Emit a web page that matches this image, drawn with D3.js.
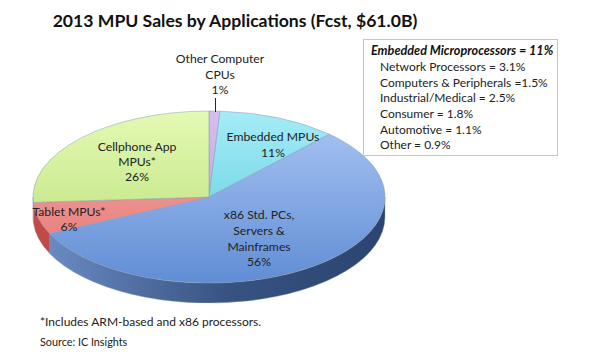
<!DOCTYPE html>
<html>
<head>
<meta charset="utf-8">
<script src="https://cdn.jsdelivr.net/npm/d3@7"></script>
<style>
  body { margin: 0; background: #fff; }
  svg { font-family: Lato, "Open Sans", sans-serif; }
</style>
</head>
<body>
<div id="chart"></div>
<script>
// data
const categories = ["Other Computer CPUs", "Embedded MPUs", "x86 Std. PCs, Servers & Mainframes", "Tablet MPUs*", "Cellphone App MPUs*"];
const shares = [1, 11, 56, 6, 26];
const sliceLabels = [
  ["Other Computer", "CPUs", "1%"],
  ["Embedded MPUs", "11%"],
  ["x86 Std. PCs,", "Servers &", "Mainframes", "56%"],
  ["Tablet MPUs*", "6%"],
  ["Cellphone App", "MPUs*", "26%"]
];
const embeddedTitle = "Embedded Microprocessors = 11%";
const embeddedLines = [
  "Network Processors = 3.1%",
  "Computers & Peripherals =1.5%",
  "Industrial/Medical = 2.5%",
  "Consumer = 1.8%",
  "Automotive = 1.1%",
  "Other = 0.9%"
];

const width = 589, height = 354;
const cx = 209, cy = 197, rx = 176, ry = 86, depth = 20;

const topTop = ["#d4bff0", "#a5ecf7", "#abc7f5", "#f7b1ae", "#e4f9b4"];
const topBot = ["#b597db", "#55c9dc", "#608dd4", "#e2716e", "#b6dd72"];
const sideL = ["#8c6bb8", "#2f9fb5", "#6e8fc8", "#c24b48", "#86a94a"];
const sideR = ["#6b4d96", "#1f7b8f", "#2b4471", "#a33633", "#6d8b36"];

const svg = d3.select("#chart").append("svg")
  .attr("width", width)
  .attr("height", height);

const defs = svg.append("defs");
shares.forEach((d, i) => {
  const g1 = defs.append("linearGradient").attr("id", "top" + i)
    .attr("gradientUnits", "userSpaceOnUse")
    .attr("x1", 0).attr("y1", cy - ry).attr("x2", 0).attr("y2", cy + ry);
  g1.append("stop").attr("offset", 0).attr("stop-color", topTop[i]);
  g1.append("stop").attr("offset", 1).attr("stop-color", topBot[i]);
  const g2 = defs.append("linearGradient").attr("id", "side" + i)
    .attr("gradientUnits", "userSpaceOnUse")
    .attr("x1", cx - rx).attr("y1", 0).attr("x2", cx + rx).attr("y2", 0);
  g2.append("stop").attr("offset", 0).attr("stop-color", sideL[i]);
  g2.append("stop").attr("offset", 0.55).attr("stop-color", d3.interpolateRgb(sideL[i], sideR[i])(0.8));
  g2.append("stop").attr("offset", 1).attr("stop-color", sideR[i]);
});

const pie = d3.pie().sort(null).value(d => d).startAngle(0).endAngle(2 * Math.PI);
const arcs = pie(shares);

const px = a => cx + rx * Math.sin(a);
const py = a => cy - ry * Math.cos(a);

// side walls (only the front half, angles between PI/2 and 3PI/2)
const sides = svg.append("g");
arcs.forEach((d, i) => {
  const s = Math.max(d.startAngle, Math.PI / 2);
  const e = Math.min(d.endAngle, 3 * Math.PI / 2);
  if (e <= s) return;
  const large = e - s > Math.PI ? 1 : 0;
  const p = `M${px(s)},${py(s)} A${rx},${ry} 0 ${large} 1 ${px(e)},${py(e)}`
    + ` L${px(e)},${py(e) + depth} A${rx},${ry} 0 ${large} 0 ${px(s)},${py(s) + depth} Z`;
  sides.append("path").attr("d", p)
    .attr("fill", `url(#side${i})`)
    .attr("stroke", "#8899aa").attr("stroke-width", 0.4);
});

// top faces
const tops = svg.append("g");
arcs.forEach((d, i) => {
  const large = d.endAngle - d.startAngle > Math.PI ? 1 : 0;
  const p = `M${cx},${cy} L${px(d.startAngle)},${py(d.startAngle)}`
    + ` A${rx},${ry} 0 ${large} 1 ${px(d.endAngle)},${py(d.endAngle)} Z`;
  tops.append("path").attr("d", p)
    .attr("fill", `url(#top${i})`)
    .attr("stroke", "#8a9bb0").attr("stroke-width", 0.5);
});

// slice labels
const labelPos = [[220, 59], [273, 137], [259, 215], [69, 212], [137, 147]];
const lineGap = [15.5, 15.5, 15.7, 14.5, 15];
const labels = svg.append("g").attr("font-size", 12.2).attr("fill", "#222").attr("text-anchor", "middle");
sliceLabels.forEach((lines, i) => {
  const t = labels.append("text").attr("x", labelPos[i][0]).attr("y", labelPos[i][1]);
  lines.forEach((ln, j) => {
    t.append("tspan").attr("x", labelPos[i][0]).attr("y", labelPos[i][1] + j * lineGap[i])
      .attr("dy", "0.35em").text(ln);
  });
});

// leader for the 1% slice
const midOther = (arcs[0].startAngle + arcs[0].endAngle) / 2;
svg.append("line")
  .attr("x1", px(midOther) + 1).attr("x2", px(midOther) + 1)
  .attr("y1", 98).attr("y2", py(midOther) + 1)
  .attr("stroke", "#222").attr("stroke-width", 1);

// title
svg.append("text")
  .attr("x", 235).attr("y", 27)
  .attr("text-anchor", "middle")
  .attr("font-size", 17.6).attr("font-weight", "bold").attr("fill", "#111")
  .text("2013 MPU Sales by Applications (Fcst, $61.0B)");

// embedded breakdown box
const box = svg.append("g");
box.append("rect")
  .attr("x", 363.5).attr("y", 39.5).attr("width", 194).attr("height", 116)
  .attr("fill", "#fff").attr("stroke", "#b8c8df").attr("stroke-width", 1);
box.append("text")
  .attr("x", 371).attr("y", 51).attr("dy", "0.35em")
  .attr("font-size", 12.6).attr("font-weight", "bold").attr("font-style", "italic").attr("fill", "#111")
  .text(embeddedTitle);
box.selectAll("text.line")
  .data(embeddedLines)
  .join("text")
  .attr("class", "line")
  .attr("x", 380)
  .attr("y", (d, i) => 67 + i * 15.6)
  .attr("dy", "0.35em")
  .attr("font-size", 12).attr("fill", "#222")
  .text(d => d);

// footnotes
svg.append("text")
  .attr("x", 40).attr("y", 322).attr("dy", "0.35em")
  .attr("font-size", 12).attr("fill", "#222")
  .text("*Includes ARM-based and x86 processors.");
svg.append("text")
  .attr("x", 40).attr("y", 342).attr("dy", "0.35em")
  .attr("font-size", 10.8).attr("fill", "#222")
  .text("Source:  IC Insights");
</script>
</body>
</html>
